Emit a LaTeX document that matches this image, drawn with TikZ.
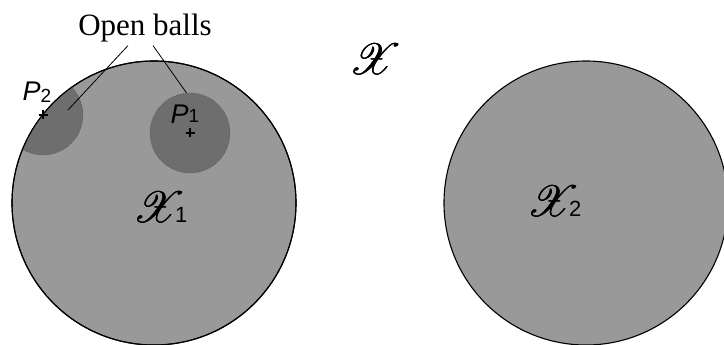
\documentclass[tikz,border=0pt]{standalone}
\usepackage{fontspec}
\setmainfont{Liberation Serif}
\setsansfont{Liberation Sans}
\usepackage{mathrsfs}
\usetikzlibrary{positioning}
\definecolor{setGray}{HTML}{999999}
\definecolor{ballGray}{HTML}{6E6E6E}
\definecolor{rimGray}{HTML}{505050}
% rsfs stops at 24.88pt, so scale it and thicken it a little
\newcommand{\thinX}{\scalebox{1.75}{\fontsize{24.88}{25}\selectfont$\mathscr{X}$}}
\newcommand{\bigX}{\rlap{\thinX}\rlap{\hspace{0.5pt}\thinX}\raisebox{0.4pt}{\thinX}}

\begin{document}
\begin{tikzpicture}[
    x=1pt, y=-1pt,
    set/.style={circle, draw=black, line width=1.1pt, fill=setGray,
                minimum size=284pt, inner sep=0pt},
    rim/.style={circle, draw=black, line width=1.1pt,
                minimum size=284pt, inner sep=0pt},
    ball/.style={circle, draw=rimGray, densely dotted, line width=0.5pt,
                 fill=ballGray, minimum size=80pt, inner sep=0pt},
    crossmark/.style={line width=1.1pt},
    plbl/.style={font=\sffamily\itshape\fontsize{27}{27}\selectfont, inner sep=0pt},
    setname/.style={inner sep=0pt},
  ]
    \useasboundingbox (0,0) rectangle (724,345);

    % the two sets
    \node[set] (x1) at (154,203) {};
    \node[set] (x2) at (586,203) {};

    % open balls
    \node[ball] (b1) at (190,133) {};
    \begin{scope}
      \clip (154,203) circle (142);
      \node[ball] (b2) at (43,115) {};
    \end{scope}
    \node[rim] at (x1) {};

    % points
    \coordinate (p1) at (190,133);
    \coordinate (p2) at (43,115);
    \foreach \p in {p1,p2}
      \draw[crossmark] ([xshift=-4.5pt]\p) -- ([xshift=4.5pt]\p)
                       ([yshift=-4.5pt]\p) -- ([yshift=4.5pt]\p);
    \node[plbl] (p1lbl) at (185,114) {P\raisebox{1pt}{\upshape\fontsize{19}{19}\selectfont 1}};
    \node[plbl] (p2lbl) at (37,92) {P\raisebox{-2pt}{\upshape\fontsize{19}{19}\selectfont 2}};

    % label
    \node[font=\fontsize{31}{31}\selectfont] (open) at (145,28) {Open balls};
    \coordinate (tip2) at (68,110);
    \draw[line width=0.8pt] ([xshift=-17pt]open.south) -- (tip2);
    \draw[line width=0.8pt] ([xshift=8pt]open.south) -- (b1.95);

    % names
    \node[setname] (xall) at (375,59) {\bigX};
    \node[setname] (x1lbl) at (160,207) {\bigX\hspace{-10pt}{\sffamily\fontsize{22}{22}\selectfont 1}};
    \node[setname] (x2lbl) at (554,201) {\bigX\hspace{-10pt}{\sffamily\fontsize{22}{22}\selectfont 2}};
\end{tikzpicture}
\end{document}
